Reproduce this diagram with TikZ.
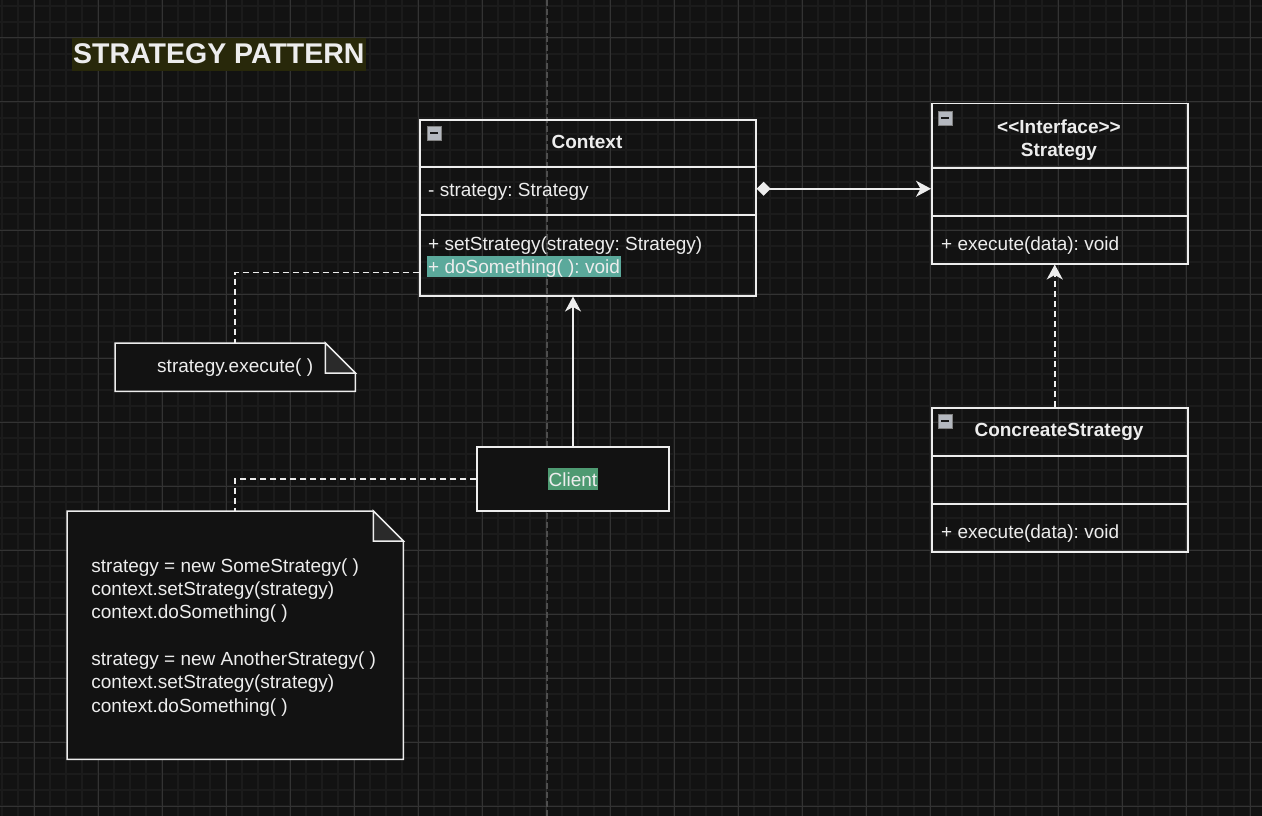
\documentclass[tikz,border=0pt]{standalone}
\usepackage{fontspec}
\setmainfont{Liberation Sans}
\usetikzlibrary{arrows.meta}
\definecolor{bg}{HTML}{121212}
\definecolor{minorgrid}{HTML}{1B1B1B}
\definecolor{majorgrid}{HTML}{333333}
\definecolor{pageline}{HTML}{4E4E4E}
\definecolor{ink}{HTML}{EDEDED}
\definecolor{titlebg}{HTML}{28280A}
\definecolor{tealmark}{HTML}{5BA99B}
\definecolor{greenmark}{HTML}{4E9A72}
\definecolor{foldfill}{HTML}{2A2A2A}
\definecolor{iconfill}{HTML}{B4B8BF}
\frenchspacing
\tikzstyle{compartment} = [rectangle, draw=ink, line width=1.5pt, anchor=north west, inner sep=0pt]
\tikzstyle{headtext} = [text=ink, font=\fontsize{19}{23}\selectfont\bfseries, align=center, inner sep=0pt]
\tikzstyle{membertext} = [text=ink, font=\fontsize{19}{23}\selectfont, anchor=base west, inner sep=0pt]
\tikzstyle{minusicon} = [rectangle, draw=black!50, fill=iconfill, minimum size=14pt, inner sep=0pt, anchor=north west, path picture={\draw[line width=2.2pt, draw=black!90] ([xshift=3pt]path picture bounding box.west) -- ([xshift=-3pt]path picture bounding box.east);}]
\tikzstyle{notebox} = [rectangle, inner sep=0pt, anchor=north west, text=ink, font=\fontsize{19}{23.3}\selectfont, align=left]
\tikzstyle{noteline} = [draw=ink, fill=bg, line width=1.5pt]
\tikzstyle{arrow} = [draw=ink, line width=1.5pt, ->, >={Stealth[length=15pt, width=16pt, inset=4.5pt]}]
\tikzstyle{compose} = [arrow, {Diamond[length=14pt, width=14pt]}->]
\tikzstyle{dashedline} = [draw=ink, line width=1.5pt, dash pattern=on 6pt off 4pt]

\begin{document}
\begin{tikzpicture}[x=1pt, y=-1pt]
\useasboundingbox (0,0) rectangle (1262,816);
\fill[bg] (0,0) rectangle (1262,816);

% grid
\foreach \x in {2,18,...,1262} \draw[minorgrid, line width=2pt] (\x,0) -- (\x,816);
\foreach \y in {6,22,...,816} \draw[minorgrid, line width=2pt] (0,\y) -- (1262,\y);
\foreach \x in {34,98,...,1262} \draw[majorgrid, line width=1pt] (\x,0) -- (\x,816);
\foreach \y in {38,102,...,816} \draw[majorgrid, line width=1pt] (0,\y) -- (1262,\y);
\draw[pageline, line width=1.5pt, dash pattern=on 6pt off 3pt] (547,0) -- (547,816);

% title
\node (title) [fill=titlebg, text=ink, font=\fontsize{28.5}{32}\selectfont\bfseries, anchor=west, inner xsep=1pt, inner ysep=2pt, text height=24pt, text depth=5pt] at (72,54.5) {STRATEGY PATTERN};

% Context
\node (ctxHead) [compartment, minimum width=336pt, minimum height=47pt] at (419,119) {};
\node (ctxAttr) [compartment, minimum width=336pt, minimum height=48pt] at (419,166) {};
\node (ctxOps) [compartment, minimum width=336pt, minimum height=81pt] at (419,214) {};
\node (ctxIcon) [minusicon] at (427,126) {};
\node (ctxName) [headtext, anchor=base] at (587,148) {Context};
\node (ctxField) [membertext] at (428,196) {- strategy: Strategy};
\node (ctxSet) [membertext] at (428,250) {+ setStrategy(strategy: Strategy)};
\node (ctxDo) [membertext, fill=tealmark, inner xsep=1pt, text height=17pt, text depth=4pt] at (427,273) {+ doSomething( ): void};

% Strategy
\node (stgHead) [compartment, minimum width=256pt, minimum height=64pt] at (931,103) {};
\node (stgAttr) [compartment, minimum width=256pt, minimum height=48pt] at (931,167) {};
\node (stgOps) [compartment, minimum width=256pt, minimum height=48pt] at (931,215) {};
\node (stgIcon) [minusicon] at (938,111) {};
\node (stgName) [headtext] at (1059,140) {<\kern0pt<Interface>\kern0pt>\\Strategy};
\node (stgExec) [membertext] at (941,250) {+ execute(data): void};

% ConcreateStrategy
\node (csHead) [compartment, minimum width=256pt, minimum height=48pt] at (931,407) {};
\node (csAttr) [compartment, minimum width=256pt, minimum height=48pt] at (931,455) {};
\node (csOps) [compartment, minimum width=256pt, minimum height=48pt] at (931,503) {};
\node (csIcon) [minusicon] at (938,414) {};
\node (csName) [headtext, anchor=base] at (1059,436) {ConcreateStrategy};
\node (csExec) [membertext] at (941,538) {+ execute(data): void};

% Client
\node (client) [rectangle, draw=ink, fill=bg, line width=1.5pt, minimum width=192pt, minimum height=64pt] at (573,479) {};
\node (clientName) [fill=greenmark, text=ink, font=\fontsize{19}{23}\selectfont, inner xsep=1pt, inner ysep=1pt, text height=17pt, text depth=3pt] at (client.center) {Client};

% notes
\node (note1) [notebox, minimum width=240pt, minimum height=48pt] at (115,343) {};
\draw[noteline] (note1.north west) -- ([xshift=-30pt]note1.north east) -- ([yshift=-30pt]note1.north east) -- (note1.south east) -- (note1.south west) -- cycle;
\draw[noteline, fill=foldfill] ([xshift=-30pt]note1.north east) -- ([xshift=-30pt, yshift=-30pt]note1.north east) -- ([yshift=-30pt]note1.north east) -- cycle;
\node (note1Text) [notebox, anchor=center] at (note1.center) {strategy.execute( )};

\node (note2) [notebox, minimum width=336pt, minimum height=248pt] at (67,511) {};
\draw[noteline] (note2.north west) -- ([xshift=-30pt]note2.north east) -- ([yshift=-30pt]note2.north east) -- (note2.south east) -- (note2.south west) -- cycle;
\draw[noteline, fill=foldfill] ([xshift=-30pt]note2.north east) -- ([xshift=-30pt, yshift=-30pt]note2.north east) -- ([yshift=-30pt]note2.north east) -- cycle;
\node (note2Text) [notebox, anchor=center] at ([xshift=-1.5pt, yshift=-2pt]note2.center) {strategy = new SomeStrategy( )\\context.setStrategy(strategy)\\context.doSomething( )\\[23.3pt]strategy = new AnotherStrategy( )\\context.setStrategy(strategy)\\context.doSomething( )};

% connectors
\draw [compose] ([yshift=2pt]ctxAttr.east) -- ([yshift=2pt]ctxAttr.east -| stgAttr.west);
\draw [arrow] (client.north) -- (client.north |- ctxOps.south);
\draw [arrow, dashedline] ([xshift=-5pt]csHead.north) -- ([xshift=-5pt]csHead.north |- stgOps.south);
\draw [dashedline] ([yshift=-6pt]ctxOps.west |- ctxDo.center) -| (note1.north);
\draw [dashedline] (client.west) -| (note2.north);
\end{tikzpicture}
\end{document}
